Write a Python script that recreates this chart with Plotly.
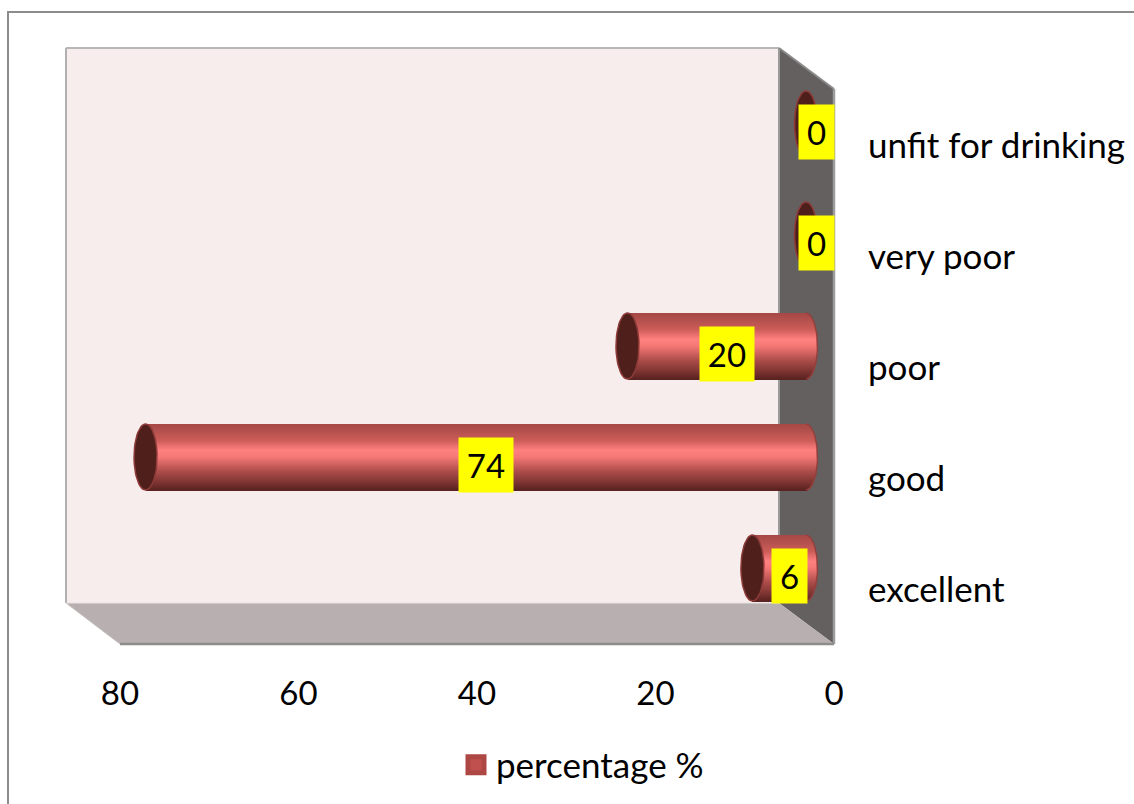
import math
import plotly.graph_objects as go

categories = ["excellent", "good", "poor", "very poor", "unfit for drinking"]
values = [6, 74, 20, 0, 0]
x_ticks = [0, 20, 40, 60, 80]
series_name = "percentage %"

W, H = 1134, 804
L, R, T, B = 66, 834, 48, 644        # plot box in pixels
PX_PER_UNIT = 8.925
ROW_PX = 111
FONT = "Lato"
FS_TEXT = 35
FS_NUM = 33


def px(x):
    return (x - L) / (R - L)


def py(y):
    return (B - y) / (B - T)


def poly(points, fill, line=None, lw=0):
    path = "M" + "L".join(f"{px(a):.5f},{py(b):.5f}" for a, b in points) + "Z"
    return dict(type="path", xref="paper", yref="paper", path=path, fillcolor=fill,
                line=dict(color=line or fill, width=lw), layer="below")


def seg(a, b, color, lw):
    return dict(type="line", xref="paper", yref="paper", x0=px(a[0]), y0=py(a[1]),
                x1=px(b[0]), y1=py(b[1]), line=dict(color=color, width=lw), layer="below")


shapes = [
    # outer frame
    seg((8, 12), (1134, 12), "#8c8c8c", 2),
    seg((8, 11), (8, 804), "#8c8c8c", 2),
    # walls
    poly([(66, 48), (779, 48), (779, 603), (66, 603)], "#f8eded"),
    poly([(779, 48), (834, 89), (834, 644), (779, 603)], "#646060"),
    poly([(66, 603), (779, 603), (834, 644), (120, 644)], "#b8b0b0"),
    seg((66, 48), (779, 48), "#b8b8b8", 2),
    seg((66, 48), (66, 603), "#b0b0b0", 2),
    seg((779, 48), (779, 603), "#9a9a9a", 2),
    seg((779, 48), (834, 89), "#8a8a8a", 2),
    seg((834, 89), (834, 644), "#9c9c9c", 2.5),
    seg((120, 644), (834, 644), "#8c8c8c", 2.5),
    seg((66, 603), (120, 644), "#c4c0c0", 1),
    seg((66, 603), (779, 603), "#e8e2e2", 1),
]

# cylinder geometry, in axis units of the bar plane
BAR_W = 66 / ROW_PX
CAP_DX = 11.5 / PX_PER_UNIT
N_BANDS = 66
STOPS = [(0.0, (165, 72, 69)), (0.10, (178, 80, 77)), (0.25, (205, 92, 88)),
         (0.40, (255, 128, 128)), (0.50, (245, 120, 118)), (0.72, (172, 76, 73)),
         (0.90, (122, 50, 48)), (1.0, (88, 34, 32))]


def shade(t):
    for (a, ca), (b, cb) in zip(STOPS, STOPS[1:]):
        if t <= b:
            f = (t - a) / (b - a)
            return "rgb(%d,%d,%d)" % tuple(round(p + (q - p) * f) for p, q in zip(ca, cb))
    return "rgb(88,34,32)"


fig = go.Figure()
rows = [i for i, v in enumerate(values) if v > 0]
band_w = BAR_W / N_BANDS * 1.5
for k in range(N_BANDS):
    top = k / N_BANDS
    mid = (k + 0.5) / N_BANDS
    s = 2 * mid - 1
    bulge = CAP_DX * math.sqrt(max(0, 1 - s * s))
    fig.add_bar(
        y=rows,
        x=[values[i] + bulge for i in rows],
        base=[-bulge] * len(rows),
        orientation="h",
        width=band_w,
        offset=BAR_W / 2 - BAR_W * top - band_w,
        marker=dict(color=shade(mid), line=dict(width=0)),
        xaxis="x2", yaxis="y2", showlegend=False, hoverinfo="skip",
    )

# right-hand rounded outline and the open cap at the value end
edge_x, edge_y, cap_x, cap_y = [], [], [], []
for i, v in enumerate(values):
    for d in range(0, 361, 6):
        a = math.radians(d)
        cap_x.append(v + CAP_DX * math.cos(a))
        cap_y.append(i + BAR_W / 2 * math.sin(a))
    cap_x.append(None)
    cap_y.append(None)
    if v > 0:
        for d in range(-90, 91, 6):
            a = math.radians(d)
            edge_x.append(-CAP_DX * math.cos(a))
            edge_y.append(i + BAR_W / 2 * math.sin(a))
        edge_x.append(None)
        edge_y.append(None)

fig.add_scatter(x=edge_x, y=edge_y, mode="lines", line=dict(color="#93403d", width=1.5),
                xaxis="x2", yaxis="y2", showlegend=False, hoverinfo="skip")
fig.add_scatter(x=cap_x, y=cap_y, mode="lines", fill="toself", fillcolor="#4f1f1c",
                line=dict(color="#8d3b38", width=1.5),
                xaxis="x2", yaxis="y2", showlegend=False, hoverinfo="skip")

# legend entry; also anchors the front-plane axes
fig.add_scatter(x=[None], y=[None], mode="markers", name=series_name,
                marker=dict(symbol="square", size=16, color="#c0504d",
                            line=dict(color="#ad4744", width=5)),
                xaxis="x", yaxis="y", showlegend=True)

annotations = [
    dict(x=v / 2, y=i, xref="x2", yref="y2", text=str(v), showarrow=False,
         xshift=10.5, yshift=-8, width=54 if v >= 10 else 35, height=54,
         bgcolor="#ffff00", font=dict(family=FONT, size=FS_NUM, color="#000000"),
         align="center", valign="middle", borderpad=0)
    for i, v in enumerate(values)
]

front_x = [(R - L) / PX_PER_UNIT, 0]
bar_x = [(806 - L) / PX_PER_UNIT, (806 - R) / PX_PER_UNIT]
front_y = [-(B - 590) / ROW_PX, (590 - T) / ROW_PX]
bar_y = [-(B - 568) / ROW_PX, (568 - T) / ROW_PX]

fig.update_layout(
    width=W, height=H,
    margin=dict(l=L, r=W - R, t=T, b=H - B, autoexpand=False),
    paper_bgcolor="#ffffff", plot_bgcolor="rgba(0,0,0,0)",
    barmode="overlay", bargap=0,
    font=dict(family=FONT, size=FS_TEXT, color="#000000"),
    shapes=shapes, annotations=annotations,
    showlegend=True,
    legend=dict(x=px(582.5), y=py(765), xanchor="center", yanchor="middle",
                orientation="h", bgcolor="rgba(0,0,0,0)",
                font=dict(family=FONT, size=FS_TEXT), itemwidth=30),
    xaxis=dict(range=front_x, tickmode="array", tickvals=x_ticks, showgrid=False,
               zeroline=False, showline=False, ticks="", ticklabelstandoff=27,
               tickfont=dict(family=FONT, size=FS_NUM)),
    yaxis=dict(range=front_y, tickmode="array", tickvals=list(range(len(categories))),
               ticktext=categories, side="right", showgrid=False, zeroline=False,
               showline=False, ticks="", ticklabelstandoff=33,
               tickfont=dict(family=FONT, size=FS_TEXT)),
    xaxis2=dict(range=bar_x, overlaying="x", visible=False, showgrid=False, zeroline=False),
    yaxis2=dict(range=bar_y, overlaying="y", visible=False, showgrid=False, zeroline=False),
)

fig.write_html(
    "out.html",
    config=dict(displayModeBar=False),
    post_script="document.body.style.margin='0';document.documentElement.style.overflow='hidden';",
)
